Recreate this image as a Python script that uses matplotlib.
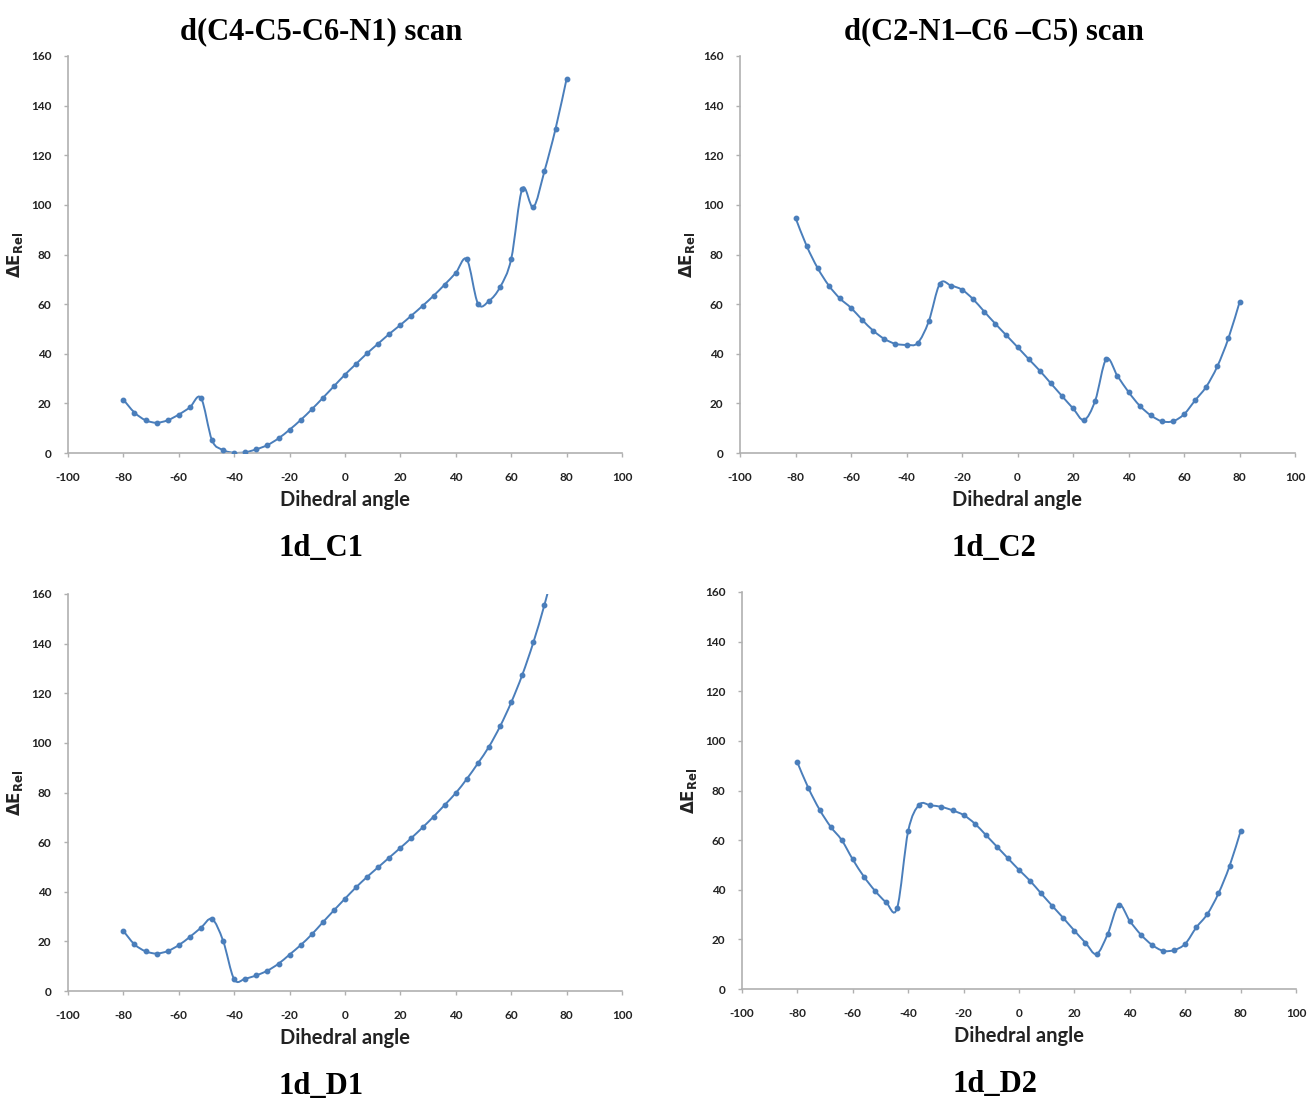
import numpy as np
import matplotlib
matplotlib.use("Agg")
import matplotlib.pyplot as plt
from matplotlib.path import Path
from matplotlib.patches import PathPatch

plt.rcParams["axes.unicode_minus"] = False

# scan angles (degrees), same for all four scans
angles = list(range(-80, 81, 4))

c1_energy = [21.5, 16.3, 13.2, 12.2, 13.2, 15.5, 18.4, 22.2, 5.1, 1.2,
             0.1, 0.3, 1.5, 3.2, 5.9, 9.4, 13.3, 17.6, 22.2, 26.9,
             31.6, 35.9, 40.2, 44.1, 48.0, 51.6, 55.4, 59.3, 63.4, 67.9,
             72.6, 78.0, 60.2, 61.3, 66.9, 78.2, 106.5, 99.1, 113.6, 130.6,
             150.8]

c2_energy = [94.8, 83.5, 74.5, 67.5, 62.3, 58.5, 53.7, 49.3, 46.0, 44.0,
             43.6, 44.3, 53.0, 68.2, 67.5, 65.8, 62.0, 57.0, 52.1, 47.4,
             42.7, 37.9, 33.2, 28.1, 23.0, 18.0, 13.3, 21.1, 37.9, 31.1,
             24.6, 19.1, 15.2, 12.8, 12.8, 15.6, 21.2, 26.7, 34.9, 46.2,
             60.7]

# last point runs off the top of the axis in the original
d1_angles = list(range(-80, 77, 4))
d1_energy = [24.2, 18.8, 16.0, 15.1, 16.1, 18.5, 21.8, 25.5, 29.0, 20.2,
             4.7, 5.0, 6.3, 8.2, 11.0, 14.7, 18.5, 22.8, 27.7, 32.5,
             37.2, 41.8, 46.0, 49.9, 53.8, 57.7, 61.7, 65.9, 70.3, 75.0,
             79.8, 85.5, 91.8, 98.5, 106.7, 116.3, 127.4, 140.5, 155.6, 172.5]

d2_energy = [91.3, 80.9, 72.3, 65.4, 60.0, 52.2, 45.3, 39.6, 35.0, 32.6,
             63.7, 74.3, 74.0, 73.4, 72.0, 70.1, 66.7, 62.1, 57.4, 52.7,
             48.0, 43.6, 38.5, 33.5, 28.6, 23.5, 18.6, 14.1, 22.1, 33.9,
             27.4, 21.9, 17.8, 15.4, 15.7, 18.2, 24.8, 30.2, 38.5, 49.5,
             63.6]

titles = ["d(C4-C5-C6-N1) scan", "d(C2-N1\u2013C6 \u2013C5) scan"]
labels = ["1d_C1", "1d_C2", "1d_D1", "1d_D2"]

blue = "#4a7ebb"
grey = "#b0b0b0"
sans = "Lato"
serif = "Liberation Serif"

W, H = 1310, 1098
fig = plt.figure(figsize=(W / 100, H / 100), dpi=100)


def ax_at(l, t, r, b):
    return fig.add_axes([l / W, 1 - b / H, (r - l) / W, (b - t) / H])


def smooth_line(ax, x, y):
    # excel style smoothed line through the points (catmull-rom as bezier)
    x = np.asarray(x, float)
    y = np.asarray(y, float)
    p = np.column_stack([x, y])
    verts = [p[0]]
    codes = [Path.MOVETO]
    n = len(p)
    for i in range(n - 1):
        p0 = p[i - 1] if i > 0 else p[i]
        p1 = p[i]
        p2 = p[i + 1]
        p3 = p[i + 2] if i + 2 < n else p[i + 1]
        verts += [p1 + (p2 - p0) / 6, p2 - (p3 - p1) / 6, p2]
        codes += [Path.CURVE4] * 3
    ax.add_patch(PathPatch(Path(verts, codes), fill=False, edgecolor=blue,
                           lw=1.4, zorder=2))
    ax.plot(x, y, ls="none", marker="o", ms=3.2, color=blue, zorder=3)


boxes = [(68, 56, 622, 453), (740, 56, 1295, 453),
         (68, 594, 622, 991), (742, 592, 1296, 989)]
series = [(angles, c1_energy), (angles, c2_energy),
          (d1_angles, d1_energy), (angles, d2_energy)]

for k in range(4):
    l, t, r, b = boxes[k]
    ax = ax_at(l, t, r, b)
    smooth_line(ax, *series[k])
    ax.set_xlim(-100, 100)
    ax.set_ylim(0, 160)
    ax.set_xticks(range(-100, 101, 20))
    ax.set_yticks(range(0, 161, 20))
    for s in ["top", "right"]:
        ax.spines[s].set_visible(False)
    for s in ["left", "bottom"]:
        ax.spines[s].set_color(grey)
        ax.spines[s].set_linewidth(1.2)
    ax.tick_params(colors=grey, length=3, width=1, direction="out",
                   labelcolor="#222222", labelsize=8.5)
    ax.tick_params(axis="x", pad=11)
    ax.tick_params(axis="y", pad=9)
    for lab in ax.get_xticklabels() + ax.get_yticklabels():
        lab.set_fontfamily(sans)
        lab.set_fontweight("bold")
    ax.set_xlabel("Dihedral angle", fontsize=14.5, fontweight="bold",
                  family=sans, color="#222222", labelpad=5)
    ax.set_ylabel(r"$\mathbf{\Delta E_{Rel}}$", fontsize=12, color="#222222",
                  labelpad=4)
    cx = (l + r) / 2
    fig.text((cx - 24) / W, 1 - (b + 95) / H, labels[k], ha="center",
             va="center", family=serif, fontweight="bold", fontsize=22)
    if k < 2:
        fig.text((cx - 24) / W, 1 - 32 / H, titles[k], ha="center",
                 va="center", family=serif, fontweight="bold", fontsize=22)

fig.savefig("out.png", dpi=100, facecolor="white")
